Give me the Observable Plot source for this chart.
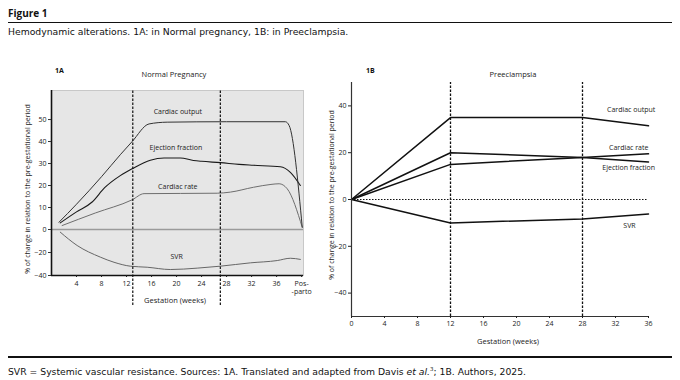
<!DOCTYPE html>
<html>
<head>
<meta charset="utf-8">
<script src="https://cdn.jsdelivr.net/npm/d3@7"></script>
<script src="https://cdn.jsdelivr.net/npm/@observablehq/plot@0.6"></script>
<style>
  html, body { margin: 0; padding: 0; background: #fff; }
  #wrap { position: relative; width: 680px; height: 380px; overflow: hidden; font-family: "Open Sans", "Noto Sans", sans-serif; color: #111; }
  .t { position: absolute; white-space: nowrap; line-height: 1; }
  .hdr { font-family: "DejaVu Sans", "Open Sans", sans-serif; }
  .rot { position: absolute; white-space: nowrap; line-height: 1; transform: translate(-50%, -50%) rotate(-90deg); font-size: 7px; color: #222; }
  .ctr { transform: translateX(-50%); }
  .plot { position: absolute; }
</style>
</head>
<body>
<div id="wrap">
  <div class="t" style="left:8px; top:8px; font-size:10px; font-weight:bold;">Figure 1</div>
  <div style="position:absolute; left:8px; top:22px; width:664px; height:1px; background:#111;"></div>
  <div class="t hdr" style="left:8px; top:26.5px; font-size:9.25px;">Hemodynamic alterations. 1A: in Normal pregnancy, 1B: in Preeclampsia.</div>

  <div class="t" style="left:55px; top:67px; font-size:7px; font-weight:bold;">1A</div>
  <div class="t ctr" style="left:174px; top:70.5px; font-size:7.5px; color:#222;">Normal Pregnancy</div>
  <div class="t" style="left:366px; top:67px; font-size:7px; font-weight:bold;">1B</div>
  <div class="t ctr" style="left:513px; top:70.5px; font-size:7.5px; color:#222;">Preeclampsia</div>

  <div class="rot" style="left:27px; top:189px;">% of change in relation to the pre-gestational period</div>
  <div class="rot" style="left:331px; top:195px;">% of change in relation to the pre-gestational period</div>

  <div class="t ctr" style="left:175px; top:297px; font-size:7.5px; color:#222;">Gestation (weeks)</div>
  <div class="t ctr" style="left:508px; top:338px; font-size:7.5px; color:#222;">Gestation (weeks)</div>

  <div id="plotA" class="plot" style="left:0px; top:50px;"></div>
  <div id="plotB" class="plot" style="left:318px; top:50px;"></div>

  <div style="position:absolute; left:8px; top:356px; width:664px; height:2px; background:#111;"></div>
  <div class="t hdr" style="left:8px; top:366.8px; font-size:9.25px;">SVR = Systemic vascular resistance. Sources: 1A. Translated and adapted from Davis <i>et al.</i><sup style="font-size:5.5px;">3</sup>; 1B. Authors, 2025.</div>
</div>
<script>
// ---------- Panel 1A: Normal pregnancy ----------
const coWeeksA  = [1.2, 4, 8, 11, 12.9, 15.6, 18.5, 28, 37.4, 38, 40.1];
const coValuesA = [3.3, 11.5, 24, 34, 40, 48, 48.8, 49, 49, 47.3, 1];

const efWeeksA  = [1.4, 4, 6.5, 8.5, 11, 12.9, 15.8, 18, 20.6, 22.7, 24, 27, 30, 32.3, 36.6, 38.2, 39.8];
const efValuesA = [3, 8, 12.5, 19, 24.5, 27.6, 31.5, 32.5, 32.5, 31.4, 31, 30.4, 29.6, 29.2, 28.5, 26, 20];

const crWeeksA  = [1.7, 7, 12.9, 14.8, 26.5, 28.6, 32.3, 35.1, 36.4, 37.7, 40.1];
const crValuesA = [1.8, 7.5, 13.5, 16.3, 16.5, 17, 19.2, 20.5, 20.8, 18.5, 1];

const svrWeeksA  = [1.4, 4.1, 7.8, 10, 12.6, 15.3, 19, 23.3, 27, 31.8, 36.1, 38.2, 39.8];
const svrValuesA = [-2.3, -13.9, -24, -28.5, -31.9, -32.8, -34.8, -33.6, -31.9, -29, -27, -25, -26];

const phaseWeeksA = [13, 27];
const yTicksA = [-40, -20, 0, 10, 20, 30, 40, 50];
const xTicksA = [4, 8, 12, 16, 20, 24, 28, 32, 36, 40];
const postLabel = "Pos-\n-parto";

const labelsA  = ["Cardiac output", "Ejection fraction", "Cardiac rate", "SVR"];
const labelWA  = [20.2, 19.9, 20.2, 20];
const labelVA  = [53.6, 37, 19.5, -23.5];

// ---------- Panel 1B: Preeclampsia ----------
const weeksB = [0, 12, 28, 36];
const coB  = [0, 35, 35, 31.5];
const crB  = [0, 15, 18, 19.5];
const efB  = [0, 20, 18, 16];
const svrB = [0, -10, -8.3, -6.2];
const phaseWeeksB = [12, 28];
const yTicksB = [-40, -20, 0, 20, 40];
const xTicksB = [0, 4, 8, 12, 16, 20, 24, 28, 32, 36];

const labelsB = ["Cardiac output", "Cardiac rate", "Ejection fraction", "SVR"];
const labelWB = [33.9, 33.6, 33.6, 33.7];
const labelVB = [38.4, 22, 13.4, -11.4];

// ---------- build ----------
const zip = (ws, vs) => ws.map((w, i) => ({w, v: vs[i]}));
const font = "'Open Sans', 'Noto Sans', sans-serif";

const annA = labelsA.map((t, i) => ({t, w: labelWA[i], v: labelVA[i]}));
const annB = labelsB.map((t, i) => ({t, w: labelWB[i], v: labelVB[i]}));

const plotA = Plot.plot({
  width: 330, height: 260,
  marginLeft: 51, marginRight: 27, marginTop: 40, marginBottom: 35,
  x: {domain: [0, 40.3]},
  y: {type: "linear", domain: [-40, 0, 63.2], range: [225, 179, 40]},
  style: {fontFamily: font, fontSize: "7px", color: "#222", background: "transparent", overflow: "visible"},
  marks: [
    Plot.frame({fill: "#e6e6e6", stroke: "#c8c8c8", strokeWidth: 1}),
    Plot.ruleY([0], {x1: 0, x2: 40.3, stroke: "#9a9a9a", strokeWidth: 1.6}),
    Plot.line(zip(svrWeeksA, svrValuesA), {x: "w", y: "v", stroke: "#666", strokeWidth: 1, curve: "monotone-x"}),
    Plot.line(zip(crWeeksA, crValuesA), {x: "w", y: "v", stroke: "#6e6e6e", strokeWidth: 1, curve: "monotone-x"}),
    Plot.line(zip(efWeeksA, efValuesA), {x: "w", y: "v", stroke: "#1a1a1a", strokeWidth: 1.1, curve: "monotone-x"}),
    Plot.line(zip(coWeeksA, coValuesA), {x: "w", y: "v", stroke: "#333", strokeWidth: 1, curve: "monotone-x"}),
    Plot.ruleX(phaseWeeksA, {y1: -66, y2: 63.2, stroke: "#111", strokeWidth: 1.2, strokeDasharray: "2.5,1.5"}),
    Plot.ruleX([0], {y1: -40, y2: 63.2, stroke: "#111", strokeWidth: 1.6}),
    Plot.ruleY([-40], {x1: 0, x2: 40.3, stroke: "#111", strokeWidth: 1.6}),
    Plot.axisY({ticks: yTicksA, tickSize: 3, tickPadding: 2, label: null, stroke: "#333"}),
    Plot.axisX({ticks: xTicksA, tickSize: 2, tickPadding: 3, label: null, tickFormat: d => d === 40 ? postLabel : String(d), lineHeight: 1.1}),
    Plot.text(annA, {x: "w", y: "v", text: "t", fill: "#222", fontSize: 7})
  ]
});
document.getElementById("plotA").appendChild(plotA);

const plotB = Plot.plot({
  width: 362, height: 300,
  marginLeft: 33, marginRight: 32, marginTop: 32, marginBottom: 34,
  x: {domain: [0, 36]},
  y: {domain: [-50, 50]},
  style: {fontFamily: font, fontSize: "7px", color: "#222", background: "transparent", overflow: "visible"},
  marks: [
    Plot.ruleY([0], {x1: 0, x2: 36, stroke: "#111", strokeWidth: 1.2, strokeDasharray: "1.5,1.5"}),
    Plot.ruleX(phaseWeeksB, {y1: -50, y2: 50, stroke: "#111", strokeWidth: 1.3, strokeDasharray: "2.5,1.5"}),
    Plot.line(zip(weeksB, coB), {x: "w", y: "v", stroke: "#111", strokeWidth: 1.5}),
    Plot.line(zip(weeksB, crB), {x: "w", y: "v", stroke: "#111", strokeWidth: 1.5}),
    Plot.line(zip(weeksB, efB), {x: "w", y: "v", stroke: "#111", strokeWidth: 1.5}),
    Plot.line(zip(weeksB, svrB), {x: "w", y: "v", stroke: "#111", strokeWidth: 1.5}),
    Plot.ruleX([0], {y1: -50, y2: 50, stroke: "#333", strokeWidth: 1.2}),
    Plot.ruleY([-50], {x1: 0, x2: 36, stroke: "#333", strokeWidth: 1.2}),
    Plot.axisY({ticks: yTicksB, tickSize: 3, tickPadding: 2, label: null}),
    Plot.axisX({ticks: xTicksB, tickSize: 2, tickPadding: 3, label: null}),
    Plot.text(annB, {x: "w", y: "v", text: "t", fill: "#222", fontSize: 7})
  ]
});
document.getElementById("plotB").appendChild(plotB);
</script>
</body>
</html>
